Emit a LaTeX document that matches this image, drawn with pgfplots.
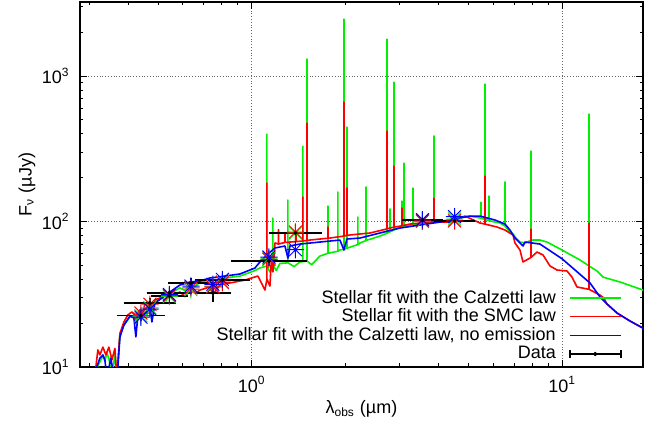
\documentclass[border=0pt]{standalone}
\usepackage{fontspec}
\setmainfont{Liberation Sans}
\usepackage{pgfplots}
\pgfplotsset{compat=1.18}

\definecolor{gpgreen}{RGB}{0,240,0}
\definecolor{gpred}{RGB}{255,0,0}
\definecolor{gpblue}{RGB}{0,0,255}

% gnuplot-like "*" point (plus and cross)
\pgfdeclareplotmark{star8}{%
  \pgfpathmoveto{\pgfqpoint{-\pgfplotmarksize}{0pt}}%
  \pgfpathlineto{\pgfqpoint{\pgfplotmarksize}{0pt}}%
  \pgfpathmoveto{\pgfqpoint{0pt}{-\pgfplotmarksize}}%
  \pgfpathlineto{\pgfqpoint{0pt}{\pgfplotmarksize}}%
  \pgfpathmoveto{\pgfqpoint{-.75\pgfplotmarksize}{-.75\pgfplotmarksize}}%
  \pgfpathlineto{\pgfqpoint{.75\pgfplotmarksize}{.75\pgfplotmarksize}}%
  \pgfpathmoveto{\pgfqpoint{-.75\pgfplotmarksize}{.75\pgfplotmarksize}}%
  \pgfpathlineto{\pgfqpoint{.75\pgfplotmarksize}{-.75\pgfplotmarksize}}%
  \pgfusepathqstroke}

\begin{document}
\fontsize{9}{11}\selectfont
\begin{tikzpicture}
\begin{axis}[
    scale only axis,
    width=281.5pt, height=182.5pt,
    xmode=log, ymode=log,
    xmin=0.2802, xmax=18.19,
    ymin=10, ymax=3230,
    xtick={1,10},
    xticklabels={10\textsuperscript{0},10\textsuperscript{1}},
    ytick={10,100,1000},
    yticklabels={10\textsuperscript{1},10\textsuperscript{2},10\textsuperscript{3}},
    minor xtick={0.3,0.4,0.5,0.6,0.7,0.8,0.9,2,3,4,5,6,7,8,9},
    minor ytick={20,30,40,50,60,70,80,90,200,300,400,500,600,700,800,900,2000,3000},
    tick align=inside,
    major tick length=3.5pt, minor tick length=1.75pt,
    tick style={black, line width=0.5pt},
    axis line style={line width=0.9pt},
    grid=major,
    major grid style={densely dotted, black!60, line width=0.5pt},
    yticklabel style={xshift=-2pt},
    xticklabel style={yshift=-1.5pt},
    xlabel={λ\textsubscript{obs} (µm)},
    ylabel={F\textsubscript{ν} (µJy)},
    xlabel style={at={(axis description cs:0.5,-0.1151)}, anchor=center},
    ylabel style={at={(axis description cs:-0.0941,0.5)}, anchor=center},
    legend plot pos=right,
    legend cell align=right,
    legend style={draw=none, fill=none, inner sep=0pt, row sep=1.55pt,
        column sep=6.5pt, nodes={inner sep=0pt},
        at={(0.9627,0.0137)}, anchor=south east},
    every axis plot/.append style={line join=round},
]

% Stellar fit, Calzetti law (with emission lines)
\addplot[gpgreen, line width=0.8pt,
    legend image code/.code={\draw[gpgreen, line width=0.8pt] (0pt,0pt) -- (25.5pt,0pt);}]
coordinates {
 (0.300,7) (0.3152,8.5) (0.3199,10.2) (0.3247,10.8) (0.3321,12.0) (0.3370,11.0)
 (0.3420,12.5) (0.3471,11.5) (0.3550,8.5) (0.3630,12.2) (0.3684,8.5) (0.3767,16.6)
 (0.3880,19.4) (0.4056,22.0) (0.4178,22.8) (0.4240,20.0) (0.4302,23.2) (0.4498,24.2)
 (0.4600,22.5) (0.4707,26.8) (0.4775,24.0) (0.4883,27.8) (0.5142,29.8) (0.5300,28.5)
 (0.5457,32.0) (0.5877,35.0) (0.6100,33.5) (0.6328,37.0) (0.6550,35.5) (0.6817,38.4)
 (0.7340,39.6) (0.7600,37.8) (0.8203,40.9) (0.9170,42.2) (1.0247,46.0)
 (1.0634,48.0) (1.1035,49.0)
 (1.1201,49.5) (1.1201,399) (1.1201,49.5)
 (1.1451,45.0)
 (1.1709,50.5) (1.1709,105.7) (1.1709,50.5)
 (1.2000,46.0) (1.2333,51.5)
 (1.3087,52.0) (1.3087,140.5) (1.3087,52.0)
 (1.3700,49.0) (1.4303,52.7)
 (1.4627,53.0) (1.4627,330) (1.4627,53.0)
 (1.5068,53.5) (1.5068,1309) (1.5068,53.5)
 (1.5600,50.5) (1.6596,57.9)
 (1.7605,60.5) (1.7605,127.8) (1.7605,60.5)
 (1.8958,62.5) (1.8958,159.5) (1.8958,62.5)
 (1.9240,63.7)
 (1.9824,64.5) (1.9824,2465) (1.9824,64.5)
 (2.0269,65.5) (2.0269,446) (2.0269,65.5)
 (2.1988,69.5) (2.1988,107.4) (2.1988,69.5)
 (2.2319,71.2)
 (2.3335,74.0) (2.3335,172.7) (2.3335,74.0)
 (2.5892,79.5)
 (2.7270,83.0) (2.7270,1796) (2.7270,83.0)
 (2.7886,85.0) (2.7886,121.9) (2.7886,85.0)
 (2.8722,87.5) (2.8722,909) (2.8722,87.5)
 (3.0026,91.7)
 (3.0474,92.3) (3.0474,138.3) (3.0474,92.3)
 (3.0932,92.8) (3.0932,252) (3.0932,92.8)
 (3.3063,95.0) (3.3063,169.9) (3.3063,95.0)
 (3.4834,96.1)
 (3.8640,98.5) (3.8640,387) (3.8640,98.5)
 (4.0398,99.8) (4.6856,107.4) (5.0449,109.0) (5.4330,105.7)
 (5.4737,105.3) (5.4737,136.1) (5.4737,105.3)
 (5.6377,103.5) (5.6377,881) (5.6377,103.5)
 (5.8076,101.5) (5.8076,149.7) (5.8076,101.5)
 (6.0710,99.2) (6.3009,97.7)
 (6.5388,93.1) (6.5388,186.9) (6.5388,93.1)
 (6.7857,84.7) (6.9388,82.1) (7.1000,77.0) (7.3079,72.3) (7.5841,71.2)
 (7.9287,74.2) (7.9287,305) (7.9287,74.2)
 (8.0479,74.6) (8.4757,74.6) (8.9279,72.3) (9.9770,63.7) (11.402,54.4)
 (12.190,49.5) (12.190,548) (12.190,49.5)
 (12.933,45.7) (13.522,41.5) (15.340,38.4) (18.190,33.8) (20.64,31.2)
};
\addlegendentry{Stellar fit with the Calzetti law}

% Stellar fit, SMC law
\addplot[gpred, line width=0.8pt,
    legend image code/.code={\draw[gpred, line width=0.8pt] (0pt,0pt) -- (25.5pt,0pt);}]
coordinates {
 (0.300,7) (0.3152,10.0) (0.3199,13.1) (0.3247,12.1) (0.3321,13.7) (0.3395,12.1)
 (0.3471,13.7) (0.3550,11.2) (0.3630,13.4) (0.3684,8.5) (0.3767,17.0) (0.3880,20.4)
 (0.3996,22.8) (0.4116,23.9) (0.4240,22.5) (0.4367,24.7) (0.4450,22.0) (0.4532,27.5)
 (0.4707,28.0) (0.4800,25.5) (0.4883,28.9) (0.5068,29.8) (0.5250,31.5) (0.5457,30.3)
 (0.5877,32.8) (0.6100,30.5) (0.6328,33.8) (0.6600,32.0) (0.6817,33.8) (0.7340,35.5)
 (0.7500,31.5) (0.7903,36.6) (0.8513,37.8) (0.9515,39.6) (1.0478,42.2) (1.1035,33.8)
 (1.1201,40.2) (1.1201,184) (1.1201,40.2)
 (1.1451,36.0) (1.1600,60.0) (1.1709,45.0) (1.1885,71.2)
 (1.2200,70.0) (1.2200,88.0) (1.2200,70.0)
 (1.2800,71.8) (1.2800,84.0) (1.2800,71.8)
 (1.3283,72.3)
 (1.3900,72.8) (1.3900,82.0) (1.3900,72.8)
 (1.4627,73.5) (1.4627,147.4) (1.4627,73.5)
 (1.5068,74.0) (1.5068,475) (1.5068,74.0)
 (1.5403,74.6)
 (1.7605,76.8) (1.7605,91.7) (1.7605,76.8)
 (1.7870,77.0)
 (1.9824,79.5) (1.9824,663) (1.9824,79.5)
 (2.0269,80.2) (2.0269,170) (2.0269,80.2)
 (2.0727,80.8) (2.4041,83.4)
 (2.7270,89.0) (2.7270,419) (2.7270,89.0)
 (2.7886,90.2)
 (2.8722,91.5) (2.8722,240.6) (2.8722,91.5)
 (3.0474,93.5) (3.0474,123.8) (3.0474,93.5)
 (3.2338,96.1) (3.7515,99.2)
 (3.8640,99.2) (3.8640,145) (3.8640,99.2)
 (4.3507,99.2) (4.8626,109.0) (5.4330,97.7)
 (5.6377,96.0) (5.6377,205.4) (5.6377,96.0)
 (6.1617,91.7) (6.5388,87.4) (6.9388,80.8) (7.0420,71.2) (7.3079,63.7) (7.4730,52.7)
 (7.8705,56.1)
 (7.9287,56.6) (7.9287,88.8) (7.9287,56.6)
 (8.2903,61.7) (8.6667,58.9) (9.1280,49.5) (9.6161,46.4) (10.354,45.7) (10.745,41.5)
 (11.150,35.5) (12.010,34.4)
 (12.190,34.2) (12.190,97.65) (12.190,34.2)
 (13.224,31.2) (13.600,29.8) (13.930,27.1) (15.001,23.5) (16.519,20.7) (18.190,18.5)
 (20.64,16.6)
};
\addlegendentry{Stellar fit with the SMC law}

% Stellar fit, Calzetti law, no emission lines
\addplot[gpblue, line width=0.8pt,
    legend image code/.code={\draw[gpblue, line width=0.8pt] (0pt,0pt) -- (25.5pt,0pt);}]
coordinates {
 (0.300,7) (0.3199,10.5) (0.3247,11.5) (0.3321,12.1) (0.3370,11.2) (0.3420,8.5)
 (0.3524,11.5) (0.3603,8.5) (0.3684,8.0) (0.3767,16.0) (0.3880,19.4) (0.4056,22.4)
 (0.4178,21.7) (0.4240,16.1) (0.4302,22.4) (0.4498,24.7) (0.4707,26.3) (0.4775,20.4)
 (0.4883,27.5) (0.5142,29.8) (0.5457,32.8) (0.5877,36.6) (0.6328,38.4) (0.6817,39.0)
 (0.7340,40.9) (0.8203,42.2) (0.9170,43.6) (1.0247,47.9) (1.0634,52.7) (1.1284,59.8)
 (1.1885,65.8) (1.2799,67.9) (1.3087,56.1) (1.3283,68.0) (1.4303,70.0) (1.6596,72.3)
 (1.9240,74.6) (1.9824,63.7) (2.0269,75.8) (2.2319,77.0) (2.5892,83.4) (3.0026,90.2)
 (3.4834,94.6) (4.0398,99.2) (4.6856,105.7) (5.0449,109.0) (5.4330,109.0) (6.0710,102.4)
 (6.3009,99.2) (6.5388,96.1) (6.7857,87.4) (7.0420,77.0) (7.3079,71.2) (7.4730,67.9)
 (7.5841,72.3) (8.4757,70.0) (9.9770,55.5) (12.280,37.8) (13.224,30.3) (13.930,27.1)
 (15.001,23.5) (16.519,20.7) (18.190,18.5) (20.64,16.6)
};
\addlegendentry{Stellar fit with the Calzetti law, no emission}

% model photometry
\addplot[gpgreen, only marks, mark=star8, mark size=4.3pt, line width=0.5pt, forget plot] coordinates {
 (0.4402,22.5) (0.4705,25.5) (0.5437,30.5) (0.6376,34.0) (0.7506,36.0) (0.8053,38.5)
 (1.137,56.0) (1.384,83.4) (3.548,100) (4.498,104)
};
\addplot[gpred, only marks, mark=star8, mark size=4.3pt, line width=0.5pt, forget plot] coordinates {
 (0.4402,23.5) (0.4705,27.0) (0.5437,31.0) (0.6376,35.0) (0.7506,35.5) (0.8053,38.0)
 (1.137,55.0) (1.384,84.7) (3.548,101) (4.498,101)
};
\addplot[gpblue, only marks, mark=star8, mark size=4.3pt, line width=0.5pt, forget plot] coordinates {
 (0.4402,22.0) (0.4705,25.0) (0.5437,31.5) (0.6376,36.0) (0.7506,37.0) (0.8053,40.0)
 (1.137,57.0) (1.384,64.0) (3.548,103) (4.498,108)
};

% observed photometry
\addplot[black, only marks, mark=*, mark size=0.8pt,
    legend image code/.code={
        \draw[black, line width=0.9pt] (0pt,0pt) -- (25.5pt,0pt);
        \draw[black, line width=0.9pt] (0pt,-2pt) -- (0pt,2pt) (25.5pt,-2pt) -- (25.5pt,2pt);
        \fill[black] (12.75pt,0pt) circle (0.9pt);},
    error bars/.cd, x dir=both, x explicit, y dir=both, y explicit,
    error bar style={line width=0.9pt},
    error mark options={line width=0.9pt, mark size=2pt}]
coordinates {
 (0.4402,22.6) += (0.0703,0.4) -= (0.0607,0.4)
 (0.4705,27.5) += (0.0833,0.5) -= (0.0708,0.5)
 (0.5437,32.4) += (0.0799,0.5) -= (0.0697,0.5)
 (0.5437,30.8) += (0.0616,0.5) -= (0.0554,0.5)
 (0.6376,37.8) += (0.0964,0.6) -= (0.0838,0.6)
 (0.8053,39.6) += (0.1533,0.6) -= (0.1287,0.6)
 (0.7506,32.2) += (0.0820,2.2) -= (0.0740,2.4)
 (1.137,53.5) += (0.326,0.8) -= (0.2535,0.8)
 (1.384,83.4) += (0.251,1.0) -= (0.213,1.0)
 (3.548,102) += (0.461,1.2) -= (0.408,1.2)
 (4.498,101) += (0.585,1.2) -= (0.518,1.2)
};
\addlegendentry{Data}

\end{axis}
\path ([xshift=-40pt,yshift=-30pt]current axis.south west) rectangle ([xshift=8pt,yshift=1pt]current axis.north east);
\end{tikzpicture}
\end{document}
